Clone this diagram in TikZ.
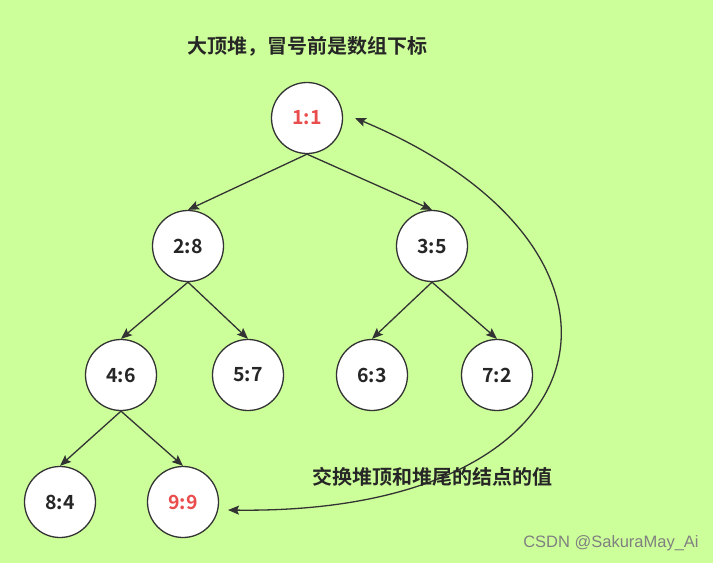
\documentclass[tikz,border=0pt]{standalone}
\usepackage{fontspec}
\setmainfont{Noto Sans CJK SC}[BoldFont={Noto Sans CJK SC Bold}]
\newfontfamily\markfont{Liberation Sans}
\usetikzlibrary{arrows.meta}

\definecolor{bggreen}{HTML}{CCFF99}
\definecolor{edgegray}{HTML}{333333}
\definecolor{hotred}{HTML}{EA4D4D}
\definecolor{inkgray}{HTML}{262626}

\begin{document}
\begin{tikzpicture}[
  x=1pt, y=-1pt,
  heap/.style={circle, draw=edgegray, fill=white, line width=1.3pt,
               minimum size=71pt, inner sep=0pt, text=inkgray,
               font=\bfseries\fontsize{19.5}{19.5}\selectfont},
  arrow/.style={-{Stealth[length=11pt, width=9pt, inset=2pt]},
                draw=edgegray, line width=1.3pt},
  label/.style={text=inkgray, font=\bfseries\fontsize{20}{20}\selectfont}
]
\fill[bggreen] (0,0) rectangle (713,563);
% tree of the heap
\node[heap, text=hotred] (n1) at (307,118) {1:1};
\node[heap] (n2) at (188,246) {2:8};
\node[heap] (n3) at (432,246) {3:5};
\node[heap] (n4) at (121,375) {4:6};
\node[heap] (n5) at (248,375) {5:7};
\node[heap] (n6) at (372,375) {6:3};
\node[heap] (n7) at (497,375) {7:2};
\node[heap] (n8) at (60,502) {8:4};
\node[heap, text=hotred] (n9) at (183,502) {9:9};
\draw[arrow] (n1.south) -- (n2.north);
\draw[arrow] (n1.south) -- (n3.north);
\draw[arrow] (n2.south) -- (n4.north);
\draw[arrow] (n2.south) -- (n5.north);
\draw[arrow] (n3.south) -- (n6.north);
\draw[arrow] (n3.south) -- (n7.north);
\draw[arrow] (n4.south) -- (n8.north);
\draw[arrow] (n4.south) -- (n9.north);
% swap of top and tail
\coordinate (swaptail) at (228,510);
\coordinate (swaptop) at (355,118);
\draw[arrow, {Stealth[length=11pt, width=9pt, inset=2pt]}-{Stealth[length=11pt, width=9pt, inset=2pt]}]
  (swaptail) .. controls (615,515) and (670,250) .. (swaptop);
\node[label] (title) at (307,46) {大顶堆，冒号前是数组下标};
\node[label] (swapnote) at (432,477) {交换堆顶和堆尾的结点的值};
\node[text=gray, font=\markfont\fontsize{16.5}{16.5}\selectfont] (mark) at (611,543) {CSDN @SakuraMay\_Ai};
\end{tikzpicture}
\end{document}
